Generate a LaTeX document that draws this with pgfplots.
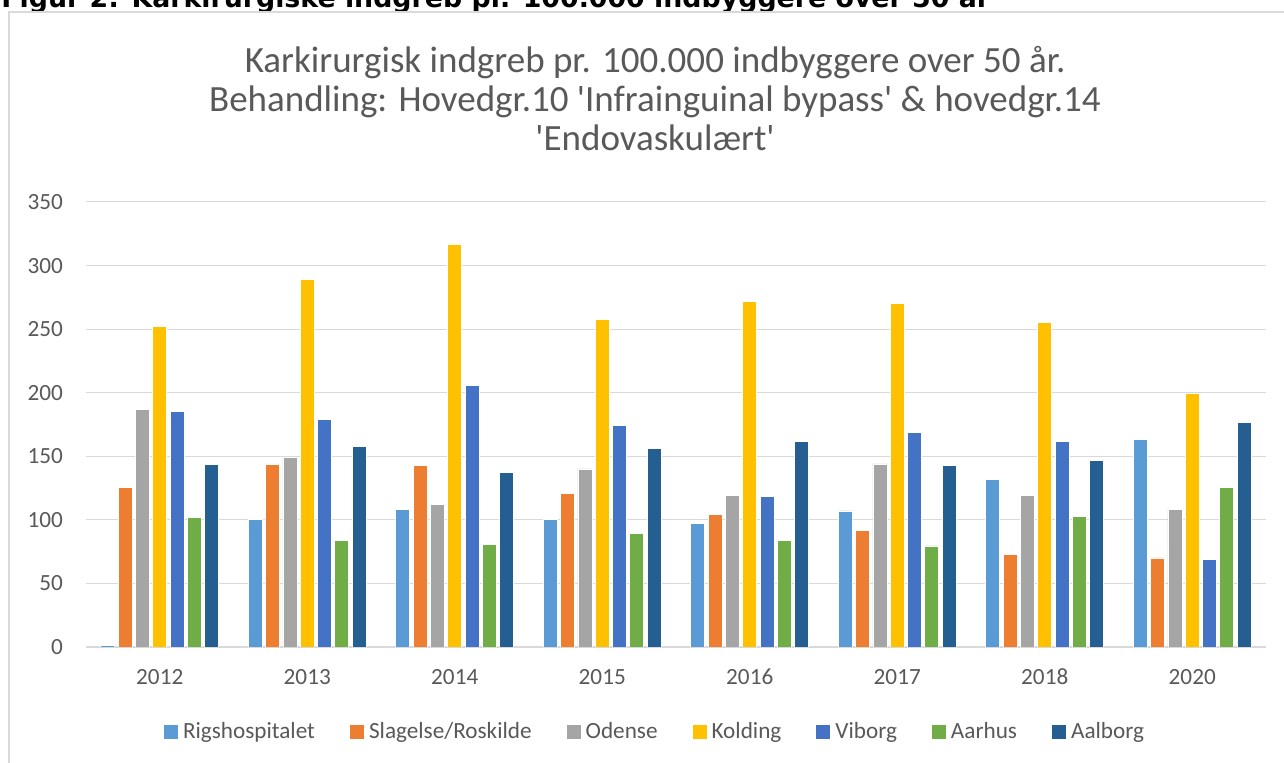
\documentclass[border=0pt]{standalone}
\usepackage{pgfplots}
\pgfplotsset{compat=1.18}
\usepackage{fontspec}
\setmainfont{Carlito}
\newfontfamily\titlefont{Carlito}
\newfontfamily\headfont{DejaVu Sans}
\definecolor{cRigs}{HTML}{5B9BD5}
\definecolor{cSlag}{HTML}{ED7D31}
\definecolor{cOdense}{HTML}{A5A5A5}
\definecolor{cKolding}{HTML}{FFC000}
\definecolor{cViborg}{HTML}{4472C4}
\definecolor{cAarhus}{HTML}{70AD47}
\definecolor{cAalborg}{HTML}{255E91}
\definecolor{gridgray}{HTML}{D9D9D9}
\definecolor{textgray}{HTML}{595959}
\begin{document}
\begin{tikzpicture}
\useasboundingbox (0,0) rectangle (642pt,381.5pt);
\clip (0,0) rectangle (642pt,381.5pt);
\fill[white] (0,0) rectangle (642pt,381.5pt);
\node[anchor=base west, inner sep=0pt, font=\headfont\bfseries\fontsize{13.4}{15}\selectfont] at (0.5pt,377.8pt) {Figur 2: Karkirurgiske indgreb pr. 100.000 indbyggere over 50 år};
\draw[gridgray, line width=0.6pt] (4.5pt,-5pt) -- (4.5pt,375.5pt) -- (660pt,375.5pt);
\begin{axis}[
  at={(43pt,58pt)}, anchor=south west,
  scale only axis, width=590pt, height=222.5pt,
  ybar=1.65pt, bar width=7pt,
  xmin=-0.5, xmax=7.5, ymin=0, ymax=350,
  xtick={0,...,7},
  xticklabels={2012,2013,2014,2015,2016,2017,2018,2020},
  ytick={0,50,...,350},
  major tick length=0,
  axis x line*=bottom, axis y line*=left,
  x axis line style={draw=gridgray, line width=0.7pt},
  y axis line style={draw=none},
  ymajorgrids, grid style={draw=gridgray, line width=0.5pt},
  tick label style={font=\fontsize{11.6}{14}\selectfont, text=textgray},
  yticklabel style={xshift=-8pt},
  xticklabel style={yshift=-7.5pt},
  /pgf/number format/assume math mode=true,
  legend columns=7,
  legend style={draw=none, fill=none, at={(0.4835,-0.192)}, anchor=center,
    font=\fontsize{11.6}{14}\selectfont, text=textgray,
    nodes={inner xsep=2.5pt},
    /tikz/every even column/.append style={column sep=15pt},
    /tikz/every odd column/.append style={column sep=0pt}},
  legend image code/.code={\fill[#1, draw=none] (0pt,-3.5pt) rectangle (7pt,3.5pt);},
  every axis plot/.append style={draw=white, line width=0.4pt},
]
\addplot[fill=cRigs] coordinates {(0,1) (1,100) (2,108) (3,100) (4,97) (5,107) (6,131.5) (7,163)};
\addplot[fill=cSlag] coordinates {(0,125.5) (1,143.5) (2,142.5) (3,121) (4,104.5) (5,92) (6,72.5) (7,70)};
\addplot[fill=cOdense] coordinates {(0,187) (1,149) (2,112) (3,140) (4,119.5) (5,144) (6,119) (7,108)};
\addplot[fill=cKolding] coordinates {(0,252) (1,289) (2,317) (3,257.5) (4,271.5) (5,270.5) (6,255.5) (7,199.5)};
\addplot[fill=cViborg] coordinates {(0,185.5) (1,179) (2,205.5) (3,174) (4,118.5) (5,169) (6,162) (7,69)};
\addplot[fill=cAarhus] coordinates {(0,102) (1,84) (2,81) (3,89.5) (4,83.5) (5,79.5) (6,103) (7,125.5)};
\addplot[fill=cAalborg] coordinates {(0,143.5) (1,157.5) (2,137.5) (3,156.5) (4,162) (5,142.5) (6,147) (7,176.5)};
\legend{Rigshospitalet, Slagelse/Roskilde, Odense, Kolding, Viborg, Aarhus, Aalborg}
\end{axis}
\begin{scope}[every node/.style={anchor=base, inner sep=0pt, text=textgray, font=\titlefont\fontsize{18.5}{20}\selectfont}]
\node at (327.5pt,345.4pt) {Karkirurgisk indgreb pr. 100.000 indbyggere over 50 år.};
\node at (327.5pt,325.7pt) {Behandling: Hovedgr.10 'Infrainguinal bypass' \& hovedgr.14};
\node at (327.5pt,306pt) {'Endovaskulært'};
\end{scope}
\end{tikzpicture}
\end{document}
